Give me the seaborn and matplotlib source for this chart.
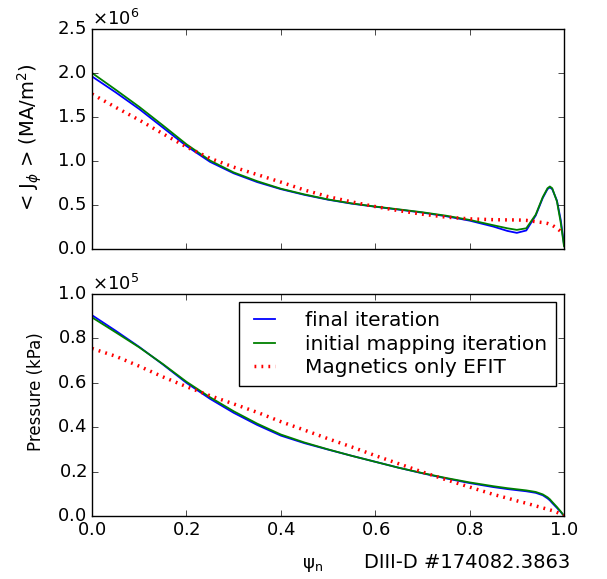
import numpy as np
import pandas as pd
import matplotlib
matplotlib.use("Agg")
import matplotlib.pyplot as plt
import seaborn as sns

plt.style.use("classic")
plt.rcParams["mathtext.fontset"] = "dejavusans"
plt.rcParams["axes.formatter.use_mathtext"] = True
plt.rcParams["lines.scale_dashes"] = False
plt.rcParams["font.family"] = ["DejaVu Sans"]
plt.rcParams["xtick.labelsize"] = 13
plt.rcParams["ytick.labelsize"] = 13
plt.rcParams["axes.labelsize"] = 13

# normalized poloidal flux grid
psi = [0.0, 0.05, 0.1, 0.15, 0.2, 0.25, 0.3, 0.35, 0.4, 0.45, 0.5, 0.55,
       0.6, 0.65, 0.7, 0.75, 0.8, 0.85, 0.88, 0.9, 0.92, 0.94, 0.955,
       0.965, 0.97, 0.975, 0.985, 0.993, 1.0]

# flux-surface averaged toroidal current density, units of 1e6
j_final = [1.96, 1.78, 1.59, 1.38, 1.17, 0.99, 0.86, 0.76, 0.68, 0.615, 0.56,
           0.515, 0.48, 0.447, 0.413, 0.372, 0.322, 0.255, 0.205, 0.183, 0.21,
           0.38, 0.58, 0.68, 0.70, 0.68, 0.55, 0.33, 0.05]
j_initial = [2.00, 1.81, 1.615, 1.405, 1.19, 1.005, 0.87, 0.77, 0.685, 0.62,
             0.563, 0.518, 0.482, 0.45, 0.417, 0.378, 0.33, 0.27, 0.235,
             0.217, 0.235, 0.39, 0.59, 0.69, 0.71, 0.69, 0.54, 0.30, 0.03]
j_mag = [1.76, 1.61, 1.465, 1.31, 1.16, 1.03, 0.93, 0.845, 0.76, 0.67, 0.595,
         0.535, 0.482, 0.435, 0.395, 0.362, 0.342, 0.333, 0.33, 0.33, 0.325,
         0.31, 0.30, 0.29, 0.28, 0.27, 0.235, 0.20, 0.17]

# pressure profiles, units of 1e5
p_final = [0.905, 0.835, 0.762, 0.683, 0.60, 0.528, 0.465, 0.41, 0.362,
           0.328, 0.299, 0.271, 0.244, 0.217, 0.192, 0.169, 0.148, 0.13,
           0.121, 0.116, 0.111, 0.104, 0.093, 0.079, 0.07, 0.058, 0.036,
           0.018, 0.0]
p_initial = [0.895, 0.828, 0.76, 0.685, 0.605, 0.535, 0.472, 0.416, 0.367,
             0.331, 0.3, 0.271, 0.244, 0.217, 0.193, 0.171, 0.151, 0.134,
             0.125, 0.12, 0.115, 0.108, 0.097, 0.084, 0.075, 0.063, 0.04,
             0.02, 0.0]
p_mag = [0.755, 0.72, 0.675, 0.627, 0.583, 0.542, 0.505, 0.467, 0.425, 0.387,
         0.348, 0.311, 0.272, 0.235, 0.198, 0.163, 0.13, 0.097, 0.08, 0.068,
         0.057, 0.045, 0.036, 0.03, 0.027, 0.024, 0.016, 0.008, 0.0]

labels = ["final iteration", "initial mapping iteration", "Magnetics only EFIT"]
colors = ["b", "g", "r"]
widths = [1.3, 1.3, 2.5]
lstyles = ["-", "-", (0, (1.3, 3.7))]

jdf = pd.DataFrame({"psi": psi * 3,
                    "val": np.concatenate([j_final, j_initial, j_mag]) * 1e6,
                    "run": np.repeat(labels, len(psi))})
pdf = pd.DataFrame({"psi": psi * 3,
                    "val": np.concatenate([p_final, p_initial, p_mag]) * 1e5,
                    "run": np.repeat(labels, len(psi))})

fig = plt.figure(figsize=(6.07, 5.79), dpi=100, facecolor="white")
ax1 = fig.add_axes([0.1516, 0.570, 0.7776, 0.380])
ax2 = fig.add_axes([0.1516, 0.109, 0.7776, 0.383], sharex=ax1)

for ax, df in ((ax1, jdf), (ax2, pdf)):
    for lab, col, lw, ls in zip(labels, colors, widths, lstyles):
        sub = df[df["run"] == lab]
        sns.lineplot(data=sub, x="psi", y="val", ax=ax, color=col,
                     label=lab, linewidth=lw, linestyle=ls, sort=False)
    ax.ticklabel_format(axis="y", style="sci", scilimits=(0, 0),
                        useMathText=True)
    ax.yaxis.get_offset_text().set_fontsize(13)

ax1.set_xlim(0, 1)
ax1.set_ylim(0, 2.5e6)
ax2.set_ylim(0, 1.0e5)
ax1.set_yticks(np.arange(0, 2.51e6, 0.5e6))
ax2.set_yticks(np.arange(0, 1.01e5, 0.2e5))
ax1.set_xticks(np.arange(0, 1.01, 0.2))
plt.setp(ax1.get_xticklabels(), visible=False)

ax1.set_xlabel("")
ax1.set_ylabel("< J$_\\phi$ > (MA/m$^2$)", fontsize=14)
ax1.yaxis.set_label_coords(-0.102, 0.51)
ax2.set_ylabel("Pressure (kPa)", fontsize=12)
ax2.yaxis.set_label_coords(-0.1, 0.56)
ax2.set_xlabel("ψ$_\\mathrm{n}$")
ax2.xaxis.set_label_coords(0.468, -0.18)
ax1.get_legend().remove()
ax2.legend(loc="upper right", fontsize=14.5, borderpad=0.45,
           labelspacing=0.22, handlelength=1.6, handletextpad=1.2,
           borderaxespad=0.4)

fig.text(0.94, 0.012, "DIII-D #174082.3863", ha="right", va="bottom",
         fontsize=14)

fig.savefig("out.png", dpi=100, facecolor="white")
